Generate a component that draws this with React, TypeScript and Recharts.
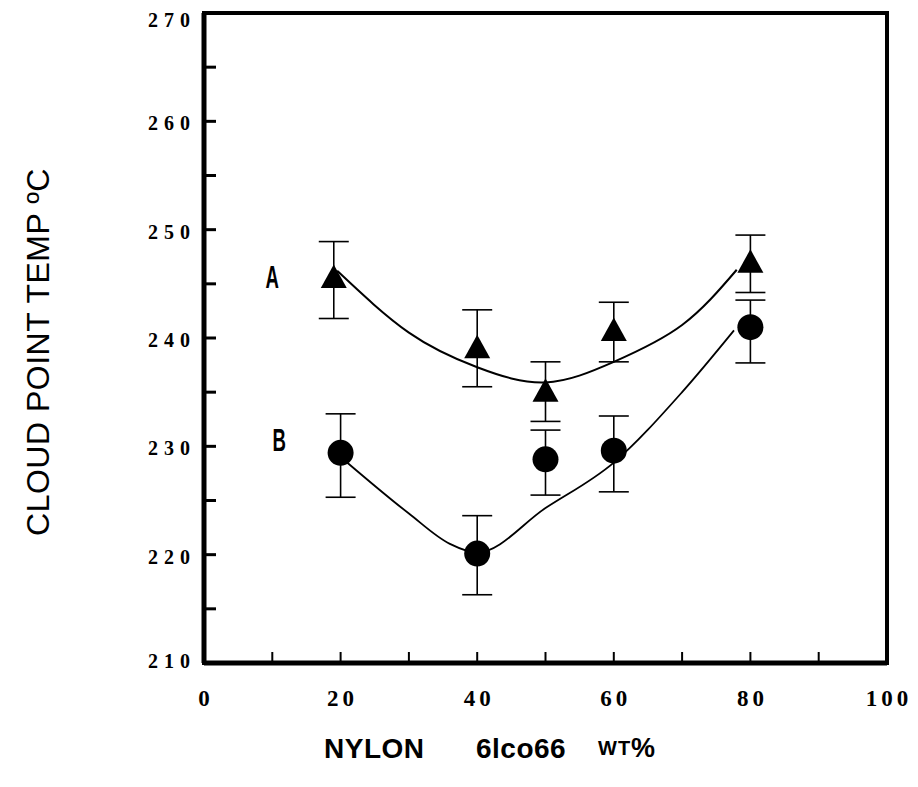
import React from "react";
import {
  ComposedChart,
  Line,
  Scatter,
  ErrorBar,
  XAxis,
  YAxis,
  ReferenceArea,
  ReferenceDot,
} from "recharts";

// ---- data ----
const xTicks = [0, 10, 20, 30, 40, 50, 60, 70, 80, 90, 100];
const yTicks = [210, 215, 220, 225, 230, 235, 240, 245, 250, 255, 260, 265, 270];

const seriesAX = [19, 40, 50, 60, 80];
const seriesAY = [245.5, 239.0, 235.0, 240.6, 246.9];
const seriesALow = [241.8, 235.5, 232.3, 237.8, 244.2];
const seriesAHigh = [248.9, 242.6, 237.8, 243.3, 249.5];

const seriesBX = [20, 40, 50, 60, 80];
const seriesBY = [229.4, 220.1, 228.8, 229.6, 241.0];
const seriesBLow = [225.3, 216.3, 225.5, 225.8, 237.7];
const seriesBHigh = [233.0, 223.6, 231.5, 232.8, 243.5];

const curveAX = [19.5, 30, 40, 50, 60, 70, 78];
const curveAY = [246.2, 240.5, 237.3, 235.9, 237.8, 241.2, 246.3];

const curveBX = [20.6, 30, 36, 40, 50, 60, 70, 77.6];
const curveBY = [228.7, 223.8, 221.0, 220.2, 224.3, 228.5, 235.0, 240.7];

const seriesLabels = [
  { name: "A", x: 10, y: 245.6 },
  { name: "B", x: 11, y: 230.6 },
];

// ---- build library data ----
const pointsA = seriesAX.map((x, i) => ({
  x,
  y: seriesAY[i],
  err: [seriesAY[i] - seriesALow[i], seriesAHigh[i] - seriesAY[i]],
}));
const pointsB = seriesBX.map((x, i) => ({
  x,
  y: seriesBY[i],
  err: [seriesBY[i] - seriesBLow[i], seriesBHigh[i] - seriesBY[i]],
}));
const lineA = curveAX.map((x, i) => ({ x, y: curveAY[i] }));
const lineB = curveBX.map((x, i) => ({ x, y: curveBY[i] }));

const W = 910;
const H = 779;

const tickFont = "'Liberation Serif', 'DejaVu Serif', serif";

const XTick = (props: any) => {
  const { x, y, payload } = props;
  const v = payload.value as number;
  const edge = v === 0 || v === 100;
  const labeled = v % 20 === 0;
  return (
    <g>
      {!edge && (
        <line x1={x} x2={x} y1={y - 2} y2={y - 11} stroke="#000" strokeWidth={2} />
      )}
      {labeled && (
        <text
          x={x + 2}
          y={y + 35}
          textAnchor="middle"
          dominantBaseline="central"
          fontFamily={tickFont}
          fontWeight="bold"
          fontSize={23}
          letterSpacing={4}
          fill="#000"
        >
          {v}
        </text>
      )}
    </g>
  );
};

const YTick = (props: any) => {
  const { x, y, payload } = props;
  const v = payload.value as number;
  const edge = v === 210 || v === 270;
  const labeled = v % 10 === 0;
  const dy = v === 270 ? 7 : v === 210 ? -2 : 2;
  return (
    <g>
      {!edge && (
        <line x1={x} x2={x + 12} y1={y} y2={y} stroke="#000" strokeWidth={3} />
      )}
      {labeled && (
        <text
          x={x - 8}
          y={y + dy}
          textAnchor="end"
          dominantBaseline="central"
          fontFamily={tickFont}
          fontWeight="bold"
          fontSize={20}
          letterSpacing={6}
          fill="#000"
        >
          {v}
        </text>
      )}
    </g>
  );
};

const Triangle = (props: any) => {
  const { cx, cy } = props;
  if (cx == null || cy == null) return null;
  return (
    <polygon
      points={`${cx},${cy - 14} ${cx - 13},${cy + 9.5} ${cx + 13},${cy + 9.5}`}
      fill="#000"
    />
  );
};

const Dot = (props: any) => {
  const { cx, cy } = props;
  if (cx == null || cy == null) return null;
  return <circle cx={cx} cy={cy} r={13} fill="#000" />;
};

const makeLabel = (name: string) => (props: any) => {
  const { cx, cy } = props;
  return (
    <text
      transform={`translate(${cx},${cy}) scale(0.6,1)`}
      x={0}
      y={0}
      textAnchor="middle"
      dominantBaseline="central"
      fontFamily="'Liberation Sans', Arial, sans-serif"
      fontWeight="bold"
      fontSize={31}
      fill="#000"
    >
      {name}
    </text>
  );
};

export default function App() {
  return (
    <div style={{ position: "relative", width: W, height: H, background: "#fff" }}>
      <ComposedChart
        width={W}
        height={H}
        margin={{ top: 5, right: 31, bottom: 0, left: 0 }}
      >
        <XAxis
          type="number"
          dataKey="x"
          domain={[0, 100]}
          ticks={xTicks}
          interval={0}
          height={124}
          tickSize={0}
          tickMargin={0}
          tickLine={false}
          axisLine={{ stroke: "#000", strokeWidth: 5 }}
          tick={<XTick />}
          allowDataOverflow
        />
        <YAxis
          type="number"
          dataKey="y"
          domain={[210, 270]}
          ticks={yTicks}
          interval={0}
          width={196}
          tickSize={0}
          tickMargin={0}
          tickLine={false}
          axisLine={{ stroke: "#000", strokeWidth: 5 }}
          tick={<YTick />}
          allowDataOverflow
        />
        <ReferenceArea
          x1={0}
          x2={100}
          y1={210}
          y2={270}
          fill="none"
          stroke="#000"
          strokeWidth={4}
          ifOverflow="visible"
        />
        <Line
          data={lineA}
          dataKey="y"
          type="natural"
          stroke="#000"
          strokeWidth={2}
          dot={false}
          activeDot={false}
          isAnimationActive={false}
        />
        <Line
          data={lineB}
          dataKey="y"
          type="monotone"
          stroke="#000"
          strokeWidth={1.8}
          dot={false}
          activeDot={false}
          isAnimationActive={false}
        />
        <Scatter data={pointsA} dataKey="y" shape={<Triangle />} isAnimationActive={false}>
          <ErrorBar dataKey="err" direction="y" width={15} stroke="#000" strokeWidth={1.6} />
        </Scatter>
        <Scatter data={pointsB} dataKey="y" shape={<Dot />} isAnimationActive={false}>
          <ErrorBar dataKey="err" direction="y" width={15} stroke="#000" strokeWidth={1.6} />
        </Scatter>
        {seriesLabels.map((l) => (
          <ReferenceDot
            key={l.name}
            x={l.x}
            y={l.y}
            r={0}
            ifOverflow="visible"
            shape={makeLabel(l.name)}
          />
        ))}
      </ComposedChart>
      <svg
        width={W}
        height={H}
        style={{ position: "absolute", left: 0, top: 0, pointerEvents: "none" }}
      >
        <text
          transform="translate(30,344) rotate(-90)"
          textAnchor="middle"
          dominantBaseline="central"
          fontFamily="'Liberation Sans', Arial, sans-serif"
          fontSize={32}
          letterSpacing={0.5}
          fill="#000"
        >
          CLOUD POINT TEMP ºC
        </text>
        <text
          y={740}
          dominantBaseline="central"
          fontFamily="'Liberation Sans', Arial, sans-serif"
          fontWeight="bold"
          fill="#000"
        >
          <tspan x={316} fontSize={28} letterSpacing={0.5}>NYLON</tspan>
          <tspan x={468} fontSize={28} letterSpacing={0.5}>6lco66</tspan>
          <tspan x={590} fontSize={20} letterSpacing={1}>WT</tspan>
          <tspan fontSize={27}>%</tspan>
        </text>
      </svg>
    </div>
  );
}
